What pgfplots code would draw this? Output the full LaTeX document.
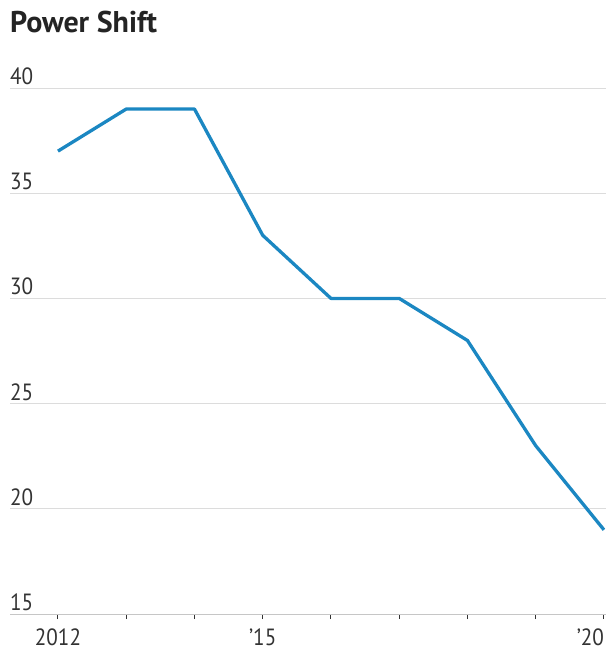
\documentclass[border=0pt]{standalone}
\usepackage{fontspec}
\setmainfont{PT Sans}[FakeStretch=0.9]
\newfontfamily\titlefont{PT Sans}
\usepackage{pgfplots}
\pgfplotsset{compat=1.18}
\definecolor{lineblue}{HTML}{1B87C2}
\definecolor{gridgray}{HTML}{DCDCDC}
\definecolor{txtgray}{HTML}{333333}
\begin{document}
\begin{tikzpicture}[x=1pt,y=1pt]
\begin{axis}[
  at={(10pt,43pt)}, anchor=south west,
  scale only axis, width=596pt, height=526pt,
  xmin=2011.297, xmax=2020.03,
  ymin=15, ymax=40,
  xtick={2012,2013,2014,2015,2016,2017,2018,2019,2020},
  xticklabels={2012,,,’15,,,,,\llap{’20}},
  ytick={15,20,25,30,35,40},
  ymajorgrids, grid style={gridgray, line width=0.9pt},
  axis x line*=bottom, axis y line*=left,
  y axis line style={draw=none},
  x axis line style={draw=gridgray!90!black, line width=0.9pt, -},
  tick align=outside,
  major tick length=5pt,
  x tick style={txtgray, line width=1pt},
  y tick style={draw=none},
  /pgf/number format/assume math mode=true,
  yticklabel style={anchor=south west, inner sep=0pt, xshift=5pt, yshift=3pt, font=\fontsize{23.5}{25}\selectfont, text=txtgray},
  xticklabel style={font=\fontsize{23.5}{25}\selectfont, text=txtgray, inner sep=0pt, yshift=-10pt},
  clip=false,
]
\addplot[lineblue, line width=3.3pt, line join=round] coordinates {
(2012,37) (2013,39) (2014,39) (2015,33) (2016,30) (2017,30) (2018,28) (2019,23) (2020,19)
};
\end{axis}
\node[anchor=base west, inner sep=0pt, font=\titlefont\fontsize{30}{32}\selectfont\bfseries, text=txtgray!70!black] at (10pt,624pt) {Power Shift};
\pgfresetboundingbox
\path (0,0) rectangle (606pt,657pt);
\end{tikzpicture}
\end{document}
